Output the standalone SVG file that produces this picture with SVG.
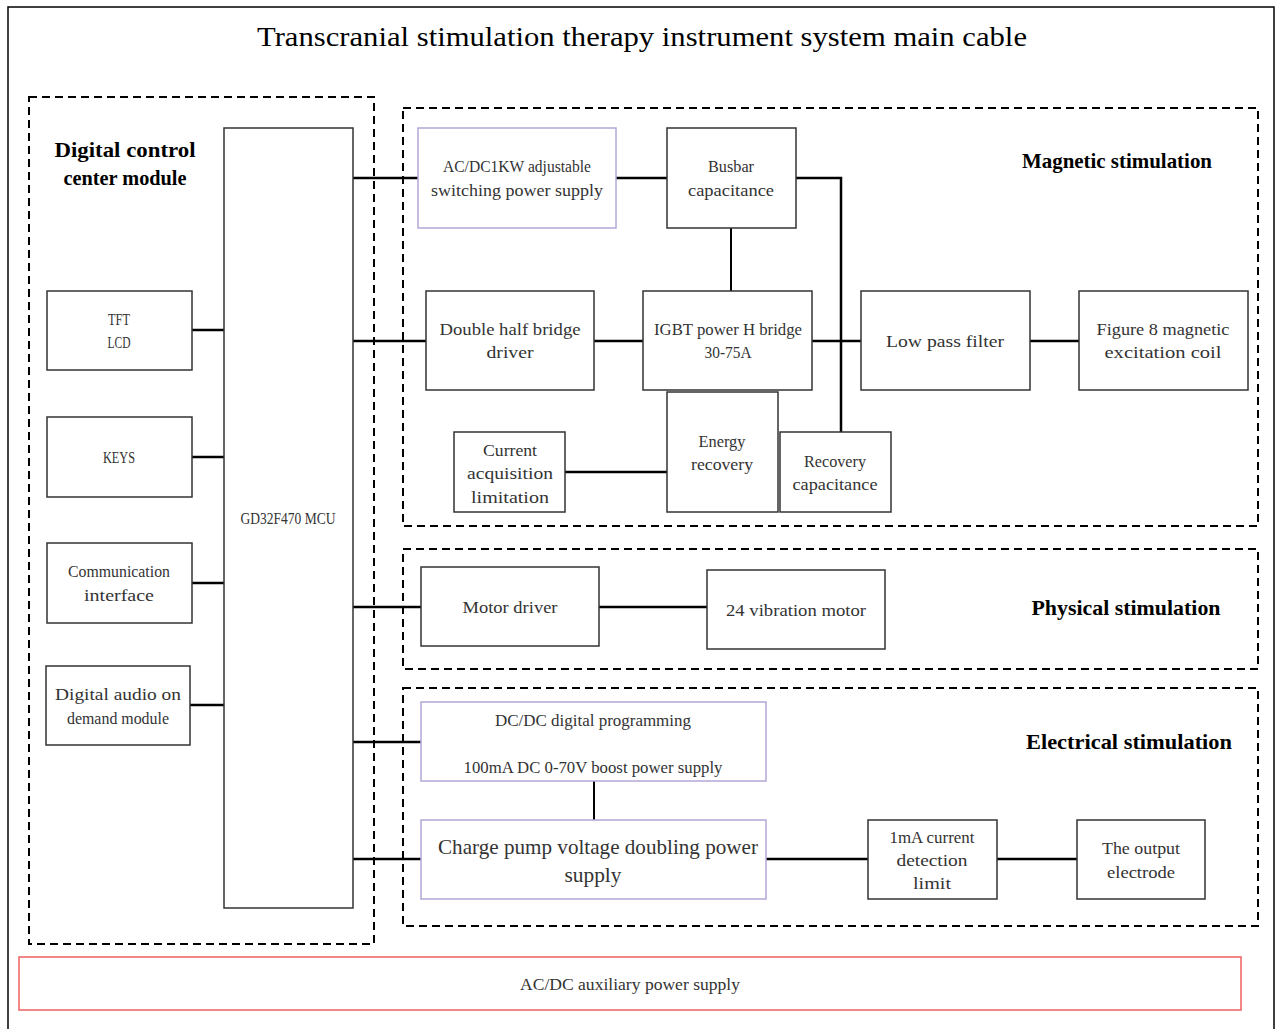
<svg xmlns="http://www.w3.org/2000/svg" width="1281" height="1029" viewBox="0 0 1281 1029">
<style>
.t{font-family:"Liberation Serif","Times New Roman",serif;font-size:17px;fill:#333;text-anchor:middle}
.h{font-family:"Liberation Serif","Times New Roman",serif;font-size:22px;font-weight:bold;fill:#000;text-anchor:middle}
.b{fill:#fff;stroke:#333;stroke-width:1.5}
.p{fill:#fff;stroke:#b4a7d6;stroke-width:1.5}
.d{fill:none;stroke:#000;stroke-width:2;stroke-dasharray:8 5}
.c{fill:none;stroke:#000;stroke-width:2.5}
</style>
<rect x="8" y="7" width="1266" height="1040" fill="#fff" stroke="#000" stroke-width="1.5"/>
<text class="t" x="642" y="46" style="font-size:27px;fill:#000" textLength="770" lengthAdjust="spacingAndGlyphs">Transcranial stimulation therapy instrument system main cable</text>

<g id="group-digital">
<rect class="d" x="29" y="97" width="345" height="847"/>
<text class="h" x="125" y="157" textLength="141" lengthAdjust="spacingAndGlyphs">Digital control</text>
<text class="h" x="125" y="185" textLength="123" lengthAdjust="spacingAndGlyphs">center module</text>
</g>
<g id="group-magnetic">
<rect class="d" x="403" y="108" width="855" height="418"/>
<text class="h" x="1117" y="168" textLength="190" lengthAdjust="spacingAndGlyphs">Magnetic stimulation</text>
</g>
<g id="group-physical">
<rect class="d" x="403" y="549" width="855" height="120"/>
<text class="h" x="1126" y="615" textLength="189" lengthAdjust="spacingAndGlyphs">Physical stimulation</text>
</g>
<g id="group-electrical">
<rect class="d" x="403" y="688" width="855" height="238"/>
<text class="h" x="1129" y="749" textLength="206" lengthAdjust="spacingAndGlyphs">Electrical stimulation</text>
</g>

<g id="connectors">
<path class="c" d="M353,178H418M616,178H667M796,178H841V432"/>
<path class="c" d="M731,228V291" style="stroke-width:2"/>
<path class="c" d="M353,341H426M594,341H643M812,341H861M1030,341H1079"/>
<path class="c" d="M565,472H667"/>
<path class="c" d="M192,330H224M192,457H224M192,583H224M190,705H224"/>
<path class="c" d="M353,607H421M599,607H707"/>
<path class="c" d="M353,742H421M353,859H421M766,859H868M997,859H1077"/>
<path class="c" d="M594,781V820" style="stroke-width:2"/>
</g>

<g id="mcu"><rect class="b" x="224" y="128" width="129" height="780"/>
<text class="t" x="288" y="524" textLength="95" lengthAdjust="spacingAndGlyphs">GD32F470 MCU</text></g>
<g id="tft"><rect class="b" x="47" y="291" width="145" height="79"/>
<text class="t" x="119" y="325" textLength="22" lengthAdjust="spacingAndGlyphs">TFT</text>
<text class="t" x="119" y="348" textLength="23" lengthAdjust="spacingAndGlyphs">LCD</text></g>
<g id="keys"><rect class="b" x="47" y="417" width="145" height="80"/>
<text class="t" x="119" y="463" textLength="32" lengthAdjust="spacingAndGlyphs">KEYS</text></g>
<g id="comm"><rect class="b" x="47" y="543" width="145" height="80"/>
<text class="t" x="119" y="577" textLength="102" lengthAdjust="spacingAndGlyphs">Communication</text>
<text class="t" x="119" y="601" textLength="70" lengthAdjust="spacingAndGlyphs">interface</text></g>
<g id="audio"><rect class="b" x="46" y="666" width="144" height="79"/>
<text class="t" x="118" y="700" textLength="126" lengthAdjust="spacingAndGlyphs">Digital audio on</text>
<text class="t" x="118" y="724" textLength="102" lengthAdjust="spacingAndGlyphs">demand module</text></g>

<g id="acdc"><rect class="p" x="418" y="128" width="198" height="100"/>
<text class="t" x="517" y="172" textLength="148" lengthAdjust="spacingAndGlyphs">AC/DC1KW adjustable</text>
<text class="t" x="517" y="196" textLength="172" lengthAdjust="spacingAndGlyphs">switching power supply</text></g>
<g id="busbar"><rect class="b" x="667" y="128" width="129" height="100"/>
<text class="t" x="731" y="172" textLength="46" lengthAdjust="spacingAndGlyphs">Busbar</text>
<text class="t" x="731" y="196" textLength="86" lengthAdjust="spacingAndGlyphs">capacitance</text></g>
<g id="dhb"><rect class="b" x="426" y="291" width="168" height="99"/>
<text class="t" x="510" y="335" textLength="141" lengthAdjust="spacingAndGlyphs">Double half bridge</text>
<text class="t" x="510" y="358" textLength="47" lengthAdjust="spacingAndGlyphs">driver</text></g>
<g id="igbt"><rect class="b" x="643" y="291" width="169" height="99"/>
<text class="t" x="728" y="335" textLength="148" lengthAdjust="spacingAndGlyphs">IGBT power H bridge</text>
<text class="t" x="728" y="358" textLength="47" lengthAdjust="spacingAndGlyphs">30-75A</text></g>
<g id="lpf"><rect class="b" x="861" y="291" width="169" height="99"/>
<text class="t" x="945" y="347" textLength="118" lengthAdjust="spacingAndGlyphs">Low pass filter</text></g>
<g id="coil"><rect class="b" x="1079" y="291" width="169" height="99"/>
<text class="t" x="1163" y="335" textLength="133" lengthAdjust="spacingAndGlyphs">Figure 8 magnetic</text>
<text class="t" x="1163" y="358" textLength="117" lengthAdjust="spacingAndGlyphs">excitation coil</text></g>
<g id="current"><rect class="b" x="454" y="432" width="111" height="80"/>
<text class="t" x="510" y="456" textLength="54" lengthAdjust="spacingAndGlyphs">Current</text>
<text class="t" x="510" y="479" textLength="86" lengthAdjust="spacingAndGlyphs">acquisition</text>
<text class="t" x="510" y="503" textLength="78" lengthAdjust="spacingAndGlyphs">limitation</text></g>
<g id="energy"><rect class="b" x="667" y="392" width="111" height="120"/>
<text class="t" x="722" y="447" textLength="47" lengthAdjust="spacingAndGlyphs">Energy</text>
<text class="t" x="722" y="470" textLength="62" lengthAdjust="spacingAndGlyphs">recovery</text></g>
<g id="reccap"><rect class="b" x="780" y="432" width="111" height="80"/>
<text class="t" x="835" y="467" textLength="62" lengthAdjust="spacingAndGlyphs">Recovery</text>
<text class="t" x="835" y="490" textLength="85" lengthAdjust="spacingAndGlyphs">capacitance</text></g>

<g id="motordriver"><rect class="b" x="421" y="567" width="178" height="79"/>
<text class="t" x="510" y="613" textLength="95" lengthAdjust="spacingAndGlyphs">Motor driver</text></g>
<g id="vibmotor"><rect class="b" x="707" y="570" width="178" height="79"/>
<text class="t" x="796" y="616" textLength="140" lengthAdjust="spacingAndGlyphs">24 vibration motor</text></g>

<g id="dcdc"><rect class="p" x="421" y="702" width="345" height="79"/>
<text class="t" x="593" y="726" textLength="196" lengthAdjust="spacingAndGlyphs">DC/DC digital programming</text>
<text class="t" x="593" y="773" textLength="259" lengthAdjust="spacingAndGlyphs">100mA DC 0-70V boost power supply</text></g>
<g id="chargepump"><rect class="p" x="421" y="820" width="345" height="79"/>
<text class="t" x="598" y="854" style="font-size:21px" textLength="320" lengthAdjust="spacingAndGlyphs">Charge pump voltage doubling power</text>
<text class="t" x="593" y="882" style="font-size:21px" textLength="57" lengthAdjust="spacingAndGlyphs">supply</text></g>
<g id="limit1ma"><rect class="b" x="868" y="820" width="129" height="79"/>
<text class="t" x="932" y="843" textLength="85" lengthAdjust="spacingAndGlyphs">1mA current</text>
<text class="t" x="932" y="866" textLength="71" lengthAdjust="spacingAndGlyphs">detection</text>
<text class="t" x="932" y="889" textLength="38" lengthAdjust="spacingAndGlyphs">limit</text></g>
<g id="electrode"><rect class="b" x="1077" y="820" width="128" height="79"/>
<text class="t" x="1141" y="854" textLength="78" lengthAdjust="spacingAndGlyphs">The output</text>
<text class="t" x="1141" y="878" textLength="68" lengthAdjust="spacingAndGlyphs">electrode</text></g>

<g id="auxpower"><rect x="19" y="957" width="1222" height="53" fill="#fff" stroke="#f06060" stroke-width="1.5"/>
<text class="t" x="630" y="990" textLength="220" lengthAdjust="spacingAndGlyphs">AC/DC auxiliary power supply</text></g>
</svg>
